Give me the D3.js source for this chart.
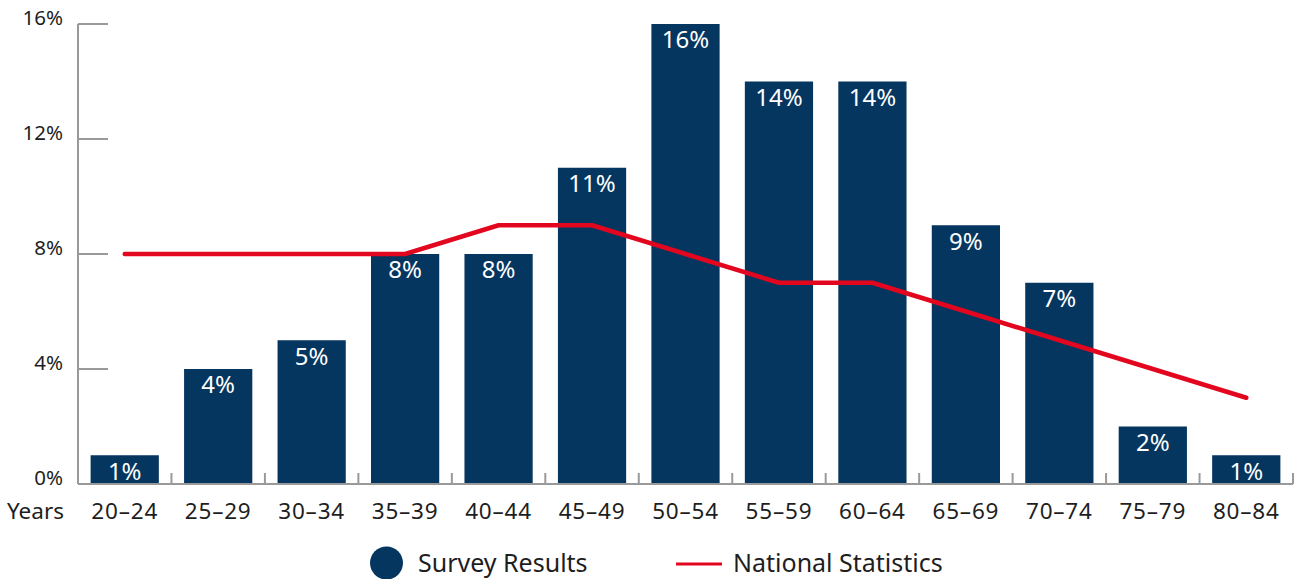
<!DOCTYPE html>
<html>
<head>
<meta charset="utf-8">
<script src="https://cdn.jsdelivr.net/npm/d3@7/dist/d3.min.js"></script>
<style>
  html, body { margin: 0; padding: 0; background: #fff; }
  svg { display: block; font-family: "Noto Sans", "Open Sans", sans-serif; }
</style>
</head>
<body>
<svg id="chart" width="1301" height="579"></svg>
<script>
// Age bands and percentage shares
const ageGroups = ["20–24","25–29","30–34","35–39","40–44","45–49","50–54","55–59","60–64","65–69","70–74","75–79","80–84"];
const surveyResults = [1, 4, 5, 8, 8, 11, 16, 14, 14, 9, 7, 2, 1];
const nationalStats = [8, 8, 8, 8, 9, 9, 8, 7, 7, 6, 5, 4, 3];
const yTicks = [0, 4, 8, 12, 16];

const barColor = "#05365f";
const lineColor = "#e3061f";
const axisColor = "#999";
const textColor = "#1e1e1e";

const svg = d3.select("#chart");
const plotLeft = 78, plotRight = 1293, plotTop = 24, plotBottom = 484;

const x = d3.scaleBand().domain(ageGroups).range([plotLeft, plotRight]).paddingInner(0.27).paddingOuter(0.135);
const y = d3.scaleLinear().domain([0, 16]).range([plotBottom, plotTop]);

// Bars
svg.append("g").selectAll("rect").data(surveyResults).join("rect")
  .attr("x", (d, i) => x(ageGroups[i]))
  .attr("y", d => y(d))
  .attr("width", x.bandwidth())
  .attr("height", d => y(0) - y(d))
  .attr("fill", barColor);

// Value labels inside bars
svg.append("g").selectAll("text").data(surveyResults).join("text")
  .attr("x", (d, i) => x(ageGroups[i]) + x.bandwidth() / 2)
  .attr("y", d => y(d) + 18)
  .attr("text-anchor", "middle")
  .attr("dominant-baseline", "middle")
  .attr("fill", "#fff")
  .attr("font-size", 24)
  .text(d => d + "%");

// Y axis: vertical line with right-pointing ticks
const yAxis = svg.append("g");
yAxis.append("line").attr("x1", plotLeft).attr("x2", plotLeft).attr("y1", y(16)).attr("y2", plotBottom)
  .attr("stroke", axisColor).attr("stroke-width", 2);
yAxis.selectAll("line.tick").data(yTicks).join("line").attr("class", "tick")
  .attr("x1", plotLeft).attr("x2", plotLeft + 30)
  .attr("y1", d => y(d)).attr("y2", d => y(d))
  .attr("stroke", axisColor).attr("stroke-width", 2);
yAxis.selectAll("text").data(yTicks).join("text")
  .attr("x", 63).attr("y", d => y(d) - 5)
  .attr("text-anchor", "end")
  .attr("dominant-baseline", "middle")
  .attr("font-size", 20.5).attr("fill", textColor)
  .text(d => d + "%");

// X axis: baseline with small upward ticks at band boundaries
const xAxis = svg.append("g");
xAxis.append("line").attr("x1", plotLeft).attr("x2", plotRight).attr("y1", plotBottom).attr("y2", plotBottom)
  .attr("stroke", axisColor).attr("stroke-width", 2);
const step = x.step();
const bounds = d3.range(ageGroups.length + 1).map(i => plotLeft + i * step);
xAxis.selectAll("line.tick").data(bounds).join("line").attr("class", "tick")
  .attr("x1", d => d).attr("x2", d => d)
  .attr("y1", plotBottom).attr("y2", plotBottom - 11)
  .attr("stroke", axisColor).attr("stroke-width", 2);
xAxis.selectAll("text").data(ageGroups).join("text")
  .attr("x", d => x(d) + x.bandwidth() / 2)
  .attr("y", 513)
  .attr("text-anchor", "middle")
  .attr("dominant-baseline", "middle")
  .attr("font-size", 22.5).attr("letter-spacing", 0.8).attr("fill", textColor)
  .text(d => d);
svg.append("text").attr("x", 64).attr("y", 513)
  .attr("text-anchor", "end").attr("dominant-baseline", "middle")
  .attr("font-size", 22.5).attr("fill", textColor).text("Years");

// National statistics line
const line = d3.line()
  .x((d, i) => x(ageGroups[i]) + x.bandwidth() / 2)
  .y(d => y(d));
svg.append("path").datum(nationalStats)
  .attr("d", line)
  .attr("fill", "none")
  .attr("stroke", lineColor)
  .attr("stroke-width", 4.5)
  .attr("stroke-linecap", "round")
  .attr("stroke-linejoin", "round");

// Legend
const legend = svg.append("g");
legend.append("circle").attr("cx", 386.5).attr("cy", 563).attr("r", 16.5).attr("fill", barColor);
legend.append("text").attr("x", 418).attr("y", 565).attr("dominant-baseline", "middle")
  .attr("font-size", 25).attr("fill", textColor).text("Survey Results");
legend.append("line").attr("x1", 676).attr("x2", 722).attr("y1", 564).attr("y2", 564)
  .attr("stroke", lineColor).attr("stroke-width", 3);
legend.append("text").attr("x", 733).attr("y", 565).attr("dominant-baseline", "middle")
  .attr("font-size", 25).attr("fill", textColor).text("National Statistics");
</script>
</body>
</html>
